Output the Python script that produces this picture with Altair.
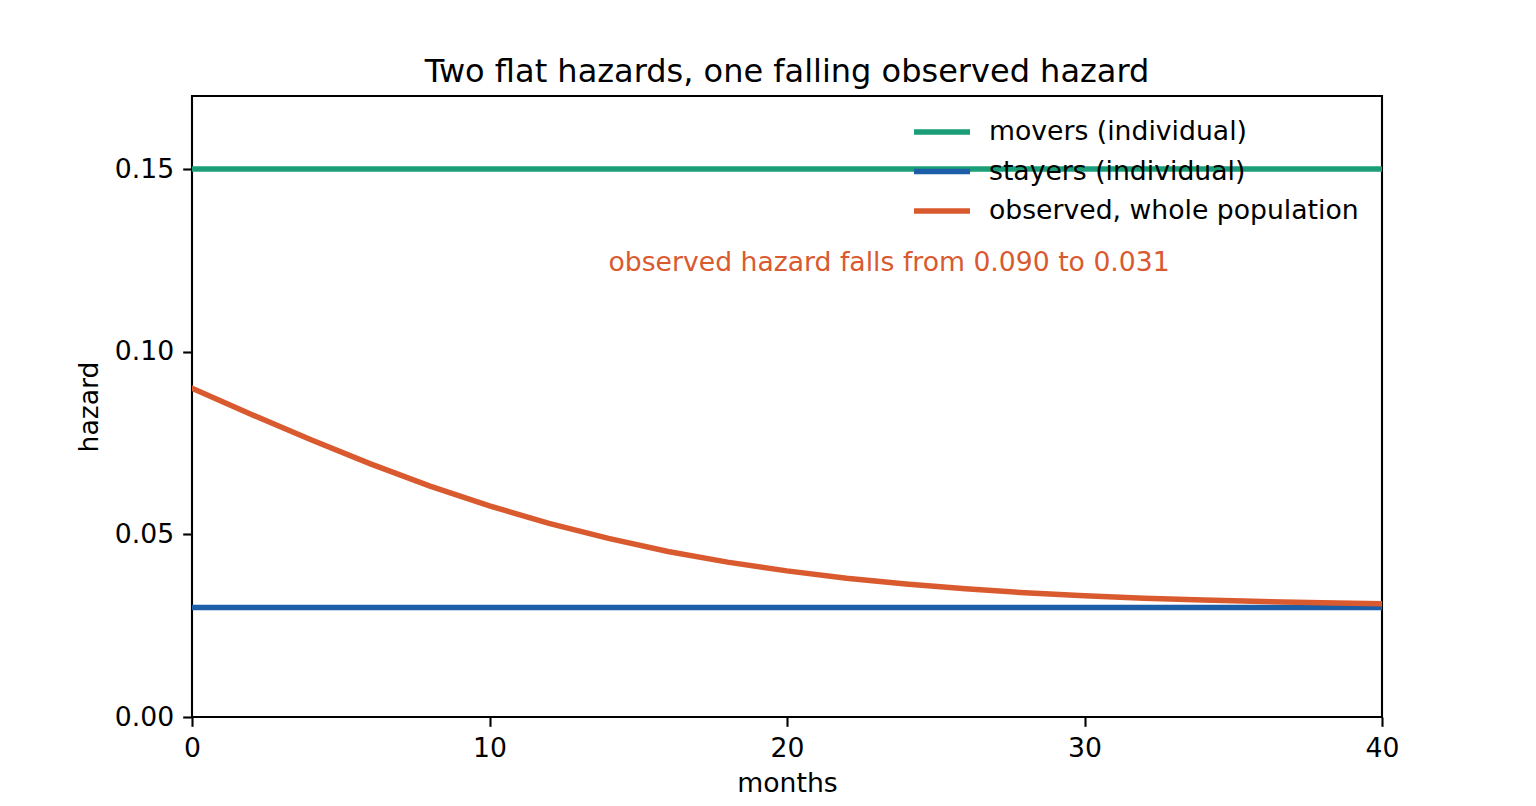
import altair as alt
import pandas as pd

# ---- data ----
months = [0, 2, 4, 6, 8, 10, 12, 14, 16, 18, 20, 22, 24, 26, 28, 30, 32, 34, 36, 38, 40]
observed = [0.0900, 0.0828, 0.0759, 0.0693, 0.0632, 0.0578, 0.0530, 0.0489, 0.0453,
            0.0424, 0.0400, 0.0380, 0.0364, 0.0351, 0.0340, 0.0332, 0.0325, 0.0320,
            0.0316, 0.0313, 0.0310]
movers_level = 0.15
stayers_level = 0.03

series_names = ["movers (individual)", "stayers (individual)", "observed, whole population"]
series_colors = ["#1b9e77", "#1c5ea8", "#d95a2f"]

annotation_text = "observed hazard falls from 0.090 to 0.031"
annotation_month = 14
annotation_hazard = 0.122

x_ticks = [0, 10, 20, 30, 40]
y_ticks = [0.00, 0.05, 0.10, 0.15]

rows = []
for m in months:
    rows.append({"month": m, "hazard": movers_level, "series": series_names[0], "order": 0})
for m in months:
    rows.append({"month": m, "hazard": stayers_level, "series": series_names[1], "order": 1})
for m, h in zip(months, observed):
    rows.append({"month": m, "hazard": h, "series": series_names[2], "order": 2})
df = pd.DataFrame(rows)

ann = pd.DataFrame({"month": [annotation_month], "hazard": [annotation_hazard], "label": [annotation_text]})

FONT = "DejaVu Sans"
FS = 26.67

x_enc = alt.X("month:Q",
              scale=alt.Scale(domain=[0, 40], nice=False, zero=False),
              axis=alt.Axis(values=x_ticks, title="months", format="d", grid=False, domain=False,
                            tickSize=9.3, tickWidth=2.1, tickColor="black",
                            labelFont=FONT, labelFontSize=FS, labelColor="black", labelPadding=9,
                            labelFlush=False,
                            titleFont=FONT, titleFontSize=FS, titleFontWeight="normal",
                            titleColor="black", titlePadding=9))
y_enc = alt.Y("hazard:Q",
              scale=alt.Scale(domain=[0, 0.17], nice=False, zero=True),
              axis=alt.Axis(values=y_ticks, title="hazard", format=".2f", grid=False, domain=False,
                            tickSize=9.3, tickWidth=2.1, tickColor="black",
                            labelFont=FONT, labelFontSize=FS, labelColor="black", labelPadding=9,
                            labelFlush=False,
                            titleFont=FONT, titleFontSize=FS, titleFontWeight="normal",
                            titleColor="black", titlePadding=11))

lines = alt.Chart(df).mark_line(strokeWidth=5.5, clip=True, strokeCap="square").encode(
    x=x_enc,
    y=y_enc,
    color=alt.Color("series:N",
                    scale=alt.Scale(domain=series_names, range=series_colors),
                    legend=alt.Legend(title=None, orient="none", legendX=727, legendY=13,
                                      symbolType="M-1.4,0L1.4,0", symbolSize=1600,
                                      symbolStrokeWidth=5.5, labelFont=FONT, labelFontSize=FS,
                                      labelColor="black", labelOffset=24, rowPadding=2.5,
                                      padding=0, labelLimit=600)),
    order=alt.Order("order:Q"),
    detail="series:N",
)

text = alt.Chart(ann).mark_text(align="left", baseline="alphabetic", font=FONT,
                                fontSize=FS, color="#d95a2f").encode(
    x="month:Q", y="hazard:Q", text="label:N")

chart = alt.layer(lines, text).properties(
    width=1190, height=621,
    title=alt.TitleParams("Two flat hazards, one falling observed hazard", font=FONT,
                          fontSize=32, fontWeight="normal", color="black", offset=7),
    autosize=alt.AutoSizeParams(type="none"),
    padding={"left": 184, "top": 88, "right": 140, "bottom": 81},
).configure(background="white",
            view=alt.ViewConfig(stroke="black", strokeWidth=2.1))

chart.save("out.html", embed_options={"renderer": "svg", "actions": False})
